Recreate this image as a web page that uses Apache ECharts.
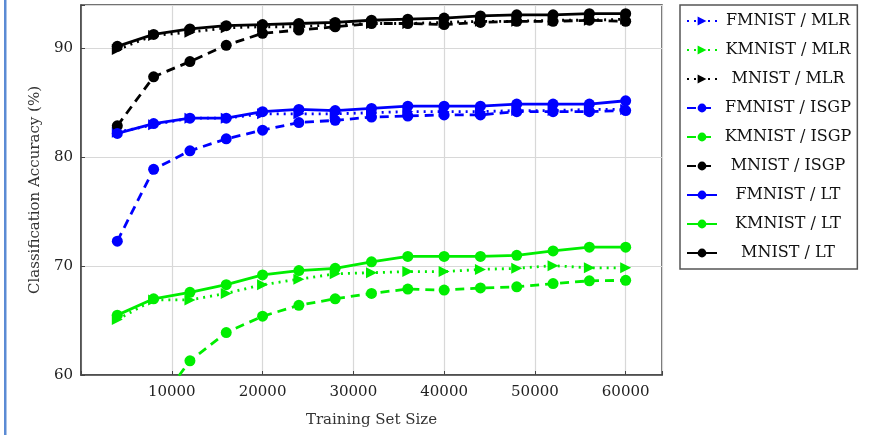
<!DOCTYPE html>
<html>
<head>
<meta charset="utf-8">
<script src="https://cdn.jsdelivr.net/npm/echarts@6/dist/echarts.min.js"></script>
<style>html,body{margin:0;padding:0;background:#fff}#c{width:878px;height:435px}</style>
</head>
<body>
<div id="c"></div>
<script>
var trainSizes = [4000, 8000, 12000, 16000, 20000, 24000, 28000, 32000, 36000, 40000, 44000, 48000, 52000, 56000, 60000];
var xTicks = [10000, 20000, 30000, 40000, 50000, 60000];
var yTicks = [60, 70, 80, 90];

var fmnistMLR  = [82.3, 83.0, 83.6, 83.6, 84.0, 84.0, 84.0, 84.1, 84.2, 84.2, 84.2, 84.3, 84.3, 84.4, 84.4];
var kmnistMLR  = [65.1, 66.9, 66.9, 67.5, 68.3, 68.8, 69.3, 69.4, 69.5, 69.5, 69.7, 69.8, 70.05, 69.85, 69.85];
var mnistMLR   = [89.9, 91.2, 91.5, 91.9, 92.0, 92.0, 92.2, 92.3, 92.3, 92.4, 92.5, 92.5, 92.6, 92.6, 92.7];
var fmnistISGP = [72.3, 78.9, 80.6, 81.7, 82.5, 83.2, 83.4, 83.7, 83.8, 83.9, 83.9, 84.2, 84.2, 84.2, 84.3];
var kmnistISGP = [50.5, 56.8, 61.3, 63.9, 65.4, 66.4, 67.0, 67.5, 67.9, 67.8, 68.0, 68.1, 68.4, 68.65, 68.7];
var mnistISGP  = [82.9, 87.4, 88.8, 90.3, 91.4, 91.7, 92.0, 92.3, 92.3, 92.2, 92.4, 92.5, 92.5, 92.6, 92.5];
var fmnistLT   = [82.2, 83.1, 83.6, 83.6, 84.2, 84.4, 84.3, 84.5, 84.7, 84.7, 84.7, 84.9, 84.9, 84.9, 85.2];
var kmnistLT   = [65.5, 67.0, 67.6, 68.3, 69.2, 69.6, 69.8, 70.4, 70.9, 70.9, 70.9, 71.0, 71.4, 71.75, 71.75];
var mnistLT    = [90.2, 91.3, 91.8, 92.1, 92.2, 92.3, 92.4, 92.6, 92.7, 92.8, 93.0, 93.1, 93.1, 93.2, 93.2];

var BLUE = '#0000ff', GREEN = '#00ee00', BLACK = '#000000';
var FONT = 'DejaVu Serif';

function pairs(vals) { return trainSizes.map(function (x, i) { return [x, vals[i]]; }); }
function mk(name, vals, color, kind) {
  var s = {
    name: name, type: 'line', data: pairs(vals), clip: true,
    color: color,
    lineStyle: { color: color, width: 2.8 },
    itemStyle: { color: color },
    symbolSize: 11, symbol: 'circle', z: 3
  };
  if (kind === 'MLR') {
    s.lineStyle.type = [2, 5];
    s.symbol = 'triangle';
    s.symbolRotate = -90;
    s.symbolSize = 11;
  } else if (kind === 'ISGP') {
    s.lineStyle.type = [9, 6];
  }
  return s;
}

var series = [
  mk('FMNIST / MLR', fmnistMLR, BLUE, 'MLR'),
  mk('KMNIST / MLR', kmnistMLR, GREEN, 'MLR'),
  mk('MNIST / MLR', mnistMLR, BLACK, 'MLR'),
  mk('FMNIST / ISGP', fmnistISGP, BLUE, 'ISGP'),
  mk('KMNIST / ISGP', kmnistISGP, GREEN, 'ISGP'),
  mk('MNIST / ISGP', mnistISGP, BLACK, 'ISGP'),
  mk('FMNIST / LT', fmnistLT, BLUE, 'LT'),
  mk('KMNIST / LT', kmnistLT, GREEN, 'LT'),
  mk('MNIST / LT', mnistLT, BLACK, 'LT')
];

var chart = echarts.init(document.getElementById('c'), null, { renderer: 'canvas' });
chart.setOption({
  animation: false,
  backgroundColor: '#fff',
  grid: { left: 81, right: 216, top: 5, bottom: 60, show: true, borderColor: '#444', borderWidth: 1.5, backgroundColor: 'transparent', containLabel: false },
  xAxis: {
    type: 'value', min: 0, max: 64000, interval: 10000,
    name: 'Training Set Size', nameLocation: 'middle', nameGap: 38,
    nameTextStyle: { fontFamily: FONT, fontSize: 15, color: '#333' },
    axisLine: { show: true, lineStyle: { color: '#444', width: 1.5 } },
    axisTick: { show: true, inside: true, length: 4, lineStyle: { color: '#444' } },
    axisLabel: { fontFamily: FONT, fontSize: 15, color: '#222', margin: 10,
      formatter: function (v) { return xTicks.indexOf(v) >= 0 ? String(v) : ''; } },
    splitLine: { show: true, lineStyle: { color: '#d8d8d8', width: 1.2 } }
  },
  yAxis: {
    type: 'value', min: 60, max: 94, interval: 10,
    name: 'Classification Accuracy (%)', nameLocation: 'middle', nameGap: 38,
    nameTextStyle: { fontFamily: FONT, fontSize: 15, color: '#333' },
    axisLine: { show: true, lineStyle: { color: '#444', width: 1.5 } },
    axisTick: { show: true, inside: true, length: 4, lineStyle: { color: '#444' } },
    axisLabel: { fontFamily: FONT, fontSize: 15, color: '#222', margin: 8,
      formatter: function (v) { return yTicks.indexOf(v) >= 0 ? String(v) : ''; } },
    splitLine: { show: true, lineStyle: { color: '#d8d8d8', width: 1.2 } }
  },
  legend: {
    orient: 'vertical', left: 680, top: 5,
    width: 182,
    padding: [8, 6, 8, 6],
    itemGap: 13, itemWidth: 30, itemHeight: 11,
    borderColor: '#555', borderWidth: 1.5, backgroundColor: '#fff',
    formatter: function (n) { return '{a|' + n + '}'; },
    textStyle: { fontFamily: FONT, fontSize: 16, color: '#111',
      rich: { a: { width: 132, height: 19, align: 'center', fontFamily: FONT, fontSize: 16, color: '#111' } } },
    data: series.map(function (s) { return s.name; })
  },
  graphic: [
    { type: 'rect', shape: { x: 4, y: 0, width: 2.5, height: 435 }, style: { fill: '#5b8bd4' }, silent: true }
  ],
  series: series
});
</script>
</body>
</html>
